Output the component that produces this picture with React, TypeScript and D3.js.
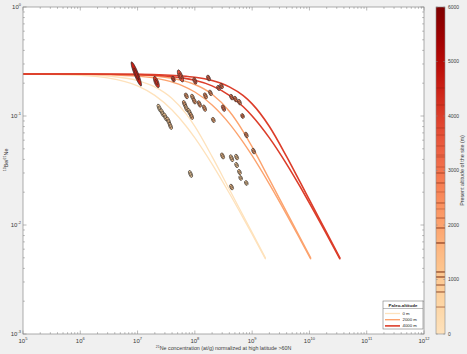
import React from "react";
import * as d3 from "d3";

// ---------- data ----------
const xTickExps = [5, 6, 7, 8, 9, 10, 11, 12];
const yTickExps = [0, -1, -2, -3];
const cbTicks = [0, 1000, 2000, 3000, 4000, 5000, 6000];

// model curves: [21Ne conc, ratio]
const lightN = [1e5, 1e6, 3e6, 1e7, 2e7, 4e7, 7e7, 1e8, 2e8, 4e8, 7e8, 1e9, 1.7e9];
const lightCE = [0.243, 0.2395, 0.2329, 0.2114, 0.1851, 0.1448, 0.1051, 0.0802, 0.0424, 0.02126, 0.01215, 0.00851, 0.005];
const lightSS = [0.2423, 0.2362, 0.2238, 0.189, 0.1546, 0.1134, 0.081, 0.063, 0.0362, 0.01955, 0.01157, 0.00822, 0.0049];

const orangeN = [1e5, 1e6, 1e7, 3e7, 6e7, 1e8, 2e8, 4e8, 7e8, 1e9, 2e9, 4e9, 7e9, 1.05e10];
const orangeCE = [0.243, 0.2424, 0.2375, 0.2269, 0.2121, 0.1945, 0.1585, 0.1106, 0.072, 0.052, 0.02624, 0.01312, 0.0075, 0.005];
const orangeSS = [0.243, 0.2419, 0.2322, 0.2134, 0.1902, 0.1661, 0.1262, 0.0852, 0.0573, 0.0432, 0.02369, 0.01245, 0.00727, 0.0049];

const redN = [1e5, 1e6, 1e7, 3e7, 6e7, 1e8, 2e8, 4e8, 7e8, 1e9, 2e9, 4e9, 7e9, 1e10, 2e10, 3.4e10];
const redCE = [0.243, 0.2428, 0.2413, 0.2379, 0.2329, 0.2265, 0.2114, 0.1851, 0.1536, 0.1293, 0.0802, 0.0424, 0.0243, 0.017, 0.00851, 0.005];
const redSS = [0.243, 0.2427, 0.2396, 0.233, 0.2238, 0.2126, 0.189, 0.1546, 0.1215, 0.1001, 0.063, 0.0362, 0.0221, 0.0159, 0.00822, 0.0049];

const paleoAltitudes = [0, 2000, 4000];
const legendLabels = ["0 m", "2000 m", "4000 m"];

// samples
const sampleN = [9.5e6, 2.13e7, 4.2e7, 5.6e7, 1.0e8, 1.73e8, 2.59e8, 2.92e8, 4.37e8, 5.1e8, 6.0e8, 1.53e8, 1.87e8, 1.2e8, 1.47e8, 3.16e8, 6.8e8, 2.1e8, 7.9e8, 1.06e9, 3.04e8, 4.37e8, 5.35e8, 5.35e8, 6.0e8, 6.3e8, 7.9e8, 4.37e8, 8.4e7, 2.4e7, 2.7e7, 3.05e7, 3.45e7, 3.74e7, 6.6e7, 7.1e7, 8.0e7, 8.7e7, 7.1e7, 9.1e7, 9.8e7];
const sampleRatio = [0.243, 0.205, 0.218, 0.233, 0.21, 0.223, 0.181, 0.188, 0.149, 0.143, 0.134, 0.153, 0.163, 0.129, 0.118, 0.118, 0.1, 0.092, 0.067, 0.0477, 0.043, 0.041, 0.042, 0.0355, 0.0306, 0.027, 0.0243, 0.0223, 0.0294, 0.118, 0.107, 0.098, 0.09, 0.081, 0.129, 0.118, 0.109, 0.1, 0.153, 0.149, 0.137];
const sampleAlt = [4514, 4202, 3780, 3651, 3450, 3284, 3248, 3064, 2954, 2771, 2606, 2404, 2294, 2128, 1945, 2954, 2771, 1670, 2404, 2128, 1138, 1046, 899, 771, 1046, 899, 771, 1138, 495, 495, 771, 899, 1046, 1138, 1670, 1138, 1046, 1670, 1945, 1670, 1945];
const sampleErrDex = [0.106, 0.049, 0.024, 0.053, 0.028, 0.025, 0.022, 0.022, 0.024, 0.024, 0.024, 0.026, 0.024, 0.028, 0.028, 0.028, 0.02, 0.022, 0.024, 0.024, 0.026, 0.03, 0.024, 0.022, 0.022, 0.02, 0.02, 0.024, 0.03, 0.035, 0.035, 0.035, 0.035, 0.03, 0.03, 0.03, 0.03, 0.03, 0.025, 0.025, 0.025];

// ---------- layout ----------
const W = 467, H = 354;
const L = 23, R = 424, T = 7, B = 334;
const CBX = 436, CBW = 9;
const FONT = "'Liberation Sans', Arial, sans-serif";

const x = d3.scaleLog().domain([1e5, 1e12]).range([L, R]);
const y = d3.scaleLog().domain([1e-3, 1]).range([B, T]);
const cbY = d3.scaleLinear().domain([0, 6000]).range([B, T]);
const color = (alt: number) => d3.interpolateOrRd(0.16 + 0.84 * Math.max(0, Math.min(1, alt / 6000)));

const line = d3
  .line<[number, number]>()
  .x((d) => x(d[0]))
  .y((d) => y(d[1]))
  .curve(d3.curveMonotoneX);

const zip = (a: number[], b: number[]) => a.map((v, i) => [v, b[i]] as [number, number]);

const curves = [
  { n: lightN, ce: lightCE, ss: lightSS, alt: paleoAltitudes[0], w: 1.3 },
  { n: orangeN, ce: orangeCE, ss: orangeSS, alt: paleoAltitudes[1], w: 1.4 },
  { n: redN, ce: redCE, ss: redSS, alt: paleoAltitudes[2], w: 1.6 },
];

function minorTicks(lo: number, hi: number) {
  const out: number[] = [];
  for (let e = lo; e < hi; e++) for (let k = 2; k <= 9; k++) out.push(k * Math.pow(10, e));
  return out;
}

export default function App() {
  const axisColor = "#8a8a8a";
  const xMinor = minorTicks(5, 12);
  const yMinor = minorTicks(-3, 0);
  const gradStops = d3.range(0, 1.0001, 0.05);

  return (
    <svg width={W} height={H} style={{ position: "absolute", left: 0, top: 0 }} fontFamily={FONT}>
      <defs>
        <linearGradient id="cb" x1="0" y1="1" x2="0" y2="0">
          {gradStops.map((t) => (
            <stop key={t} offset={t} stopColor={color(t * 6000)} />
          ))}
        </linearGradient>
        <clipPath id="plotclip">
          <rect x={L} y={T} width={R - L} height={B - T} />
        </clipPath>
      </defs>
      <rect x={0} y={0} width={W} height={H} fill="#f0f0f0" />
      <rect x={L} y={T} width={R - L} height={B - T} fill="#ffffff" />

      {/* curves */}
      <g clipPath="url(#plotclip)" fill="none">
        {curves.map((c, i) => (
          <g key={i} stroke={color(c.alt)} strokeWidth={c.w} strokeLinecap="round">
            <path d={line(zip(c.n, c.ss)) || ""} />
            <path d={line(zip(c.n, c.ce)) || ""} />
          </g>
        ))}
      </g>

      {/* samples */}
      <g clipPath="url(#plotclip)">
        {sampleN.map((n, i) => {
          const r = sampleRatio[i];
          const e = Math.pow(10, sampleErrDex[i]);
          const x1 = x(n / e), y1 = y(r * e), x2 = x(n * e), y2 = y(r / e);
          const cx = x(n), cy = y(r);
          const len = Math.hypot(x2 - x1, y2 - y1) / 2;
          const ang = (Math.atan2(y2 - y1, x2 - x1) * 180) / Math.PI + 6;
          const ry = sampleErrDex[i] > 0.04 ? 2.1 : 1.7;
          return (
            <g key={i} transform={`translate(${cx},${cy}) rotate(${ang})`}>
              <ellipse rx={len} ry={ry} fill={color(sampleAlt[i])} stroke="#262626" strokeWidth={0.6} />
              <ellipse rx={len * 0.5} ry={ry * 0.45} fill="none" stroke="#262626" strokeWidth={0.55} />
            </g>
          );
        })}
      </g>

      {/* axes box */}
      <rect x={L} y={T} width={R - L} height={B - T} fill="none" stroke={axisColor} strokeWidth={0.7} />
      <g stroke={axisColor} strokeWidth={0.6}>
        {xTickExps.map((e) => {
          const px = x(Math.pow(10, e));
          return (
            <g key={"xM" + e}>
              <line x1={px} x2={px} y1={B} y2={B - 3.5} />
              <line x1={px} x2={px} y1={T} y2={T + 3.5} />
            </g>
          );
        })}
        {xMinor.map((v, i) => {
          const px = x(v);
          return (
            <g key={"xm" + i}>
              <line x1={px} x2={px} y1={B} y2={B - 1.8} />
              <line x1={px} x2={px} y1={T} y2={T + 1.8} />
            </g>
          );
        })}
        {yTickExps.map((e) => {
          const py = y(Math.pow(10, e));
          return (
            <g key={"yM" + e}>
              <line x1={L} x2={L + 3.5} y1={py} y2={py} />
              <line x1={R} x2={R - 3.5} y1={py} y2={py} />
            </g>
          );
        })}
        {yMinor.map((v, i) => {
          const py = y(v);
          return (
            <g key={"ym" + i}>
              <line x1={L} x2={L + 1.8} y1={py} y2={py} />
              <line x1={R} x2={R - 1.8} y1={py} y2={py} />
            </g>
          );
        })}
      </g>

      {/* tick labels */}
      <g fill="#3a3a3a" fontSize={6}>
        {xTickExps.map((e) => (
          <text key={"xl" + e} x={x(Math.pow(10, e))} y={B + 9} textAnchor="middle">
            10<tspan fontSize={4} dy={-3}>{e}</tspan>
          </text>
        ))}
        {yTickExps.map((e) => (
          <text key={"yl" + e} x={L - 2} y={y(Math.pow(10, e)) + 2} textAnchor="end">
            10<tspan fontSize={4} dy={-3}>{e}</tspan>
          </text>
        ))}
      </g>

      {/* axis labels */}
      <text x={(L + R) / 2} y={350} textAnchor="middle" fontSize={5.3} fill="#3a3a3a">
        <tspan fontSize={3.6} dy={-2}>21</tspan>
        <tspan dy={2}>Ne concentration (at/g) normalized at high latitude &gt;60N</tspan>
      </text>
      <text transform={`translate(8,160) rotate(-90)`} textAnchor="middle" fontSize={5.3} fill="#3a3a3a">
        <tspan fontSize={3.6} dy={-2}>10</tspan>
        <tspan dy={2}>Be/</tspan>
        <tspan fontSize={3.6} dy={-2}>21</tspan>
        <tspan dy={2}>Ne</tspan>
      </text>

      {/* legend */}
      <g>
        <rect x={383} y={301} width={40} height={28} fill="#ffffff" stroke="#7a7a7a" strokeWidth={0.6} />
        <text x={403} y={306.5} textAnchor="middle" fontSize={4.4} fontWeight="bold" fill="#222">
          Paleo-altitude
        </text>
        <line x1={383} x2={423} y1={308.5} y2={308.5} stroke="#7a7a7a" strokeWidth={0.5} />
        {paleoAltitudes.map((a, i) => {
          const ly = 313.5 + i * 6.2;
          return (
            <g key={a}>
              <line x1={385} x2={400} y1={ly} y2={ly} stroke={color(a)} strokeWidth={curves[i].w} />
              <text x={402.5} y={ly + 1.5} fontSize={4.3} fill="#222">
                {legendLabels[i]}
              </text>
            </g>
          );
        })}
      </g>

      {/* colorbar */}
      <rect x={CBX} y={T} width={CBW} height={B - T} fill="url(#cb)" />
      <g>
        {sampleAlt.map((a, i) => (
          <line key={"cbl" + i} x1={CBX} x2={CBX + CBW} y1={cbY(a)} y2={cbY(a)} stroke="#6b1a00" strokeOpacity={0.35} strokeWidth={0.8} />
        ))}
      </g>
      <rect x={CBX} y={T} width={CBW} height={B - T} fill="none" stroke="#8a8a8a" strokeWidth={0.6} />
      <g stroke="#8a8a8a" strokeWidth={0.5}>
        {cbTicks.map((t) => (
          <g key={"cbt" + t}>
            <line x1={CBX + CBW} x2={CBX + CBW - 1.8} y1={cbY(t)} y2={cbY(t)} />
            <line x1={CBX} x2={CBX + 1.8} y1={cbY(t)} y2={cbY(t)} />
          </g>
        ))}
      </g>
      <g fill="#3a3a3a" fontSize={5}>
        {cbTicks.map((t) => (
          <text key={"cbtl" + t} x={CBX + CBW + 3} y={cbY(t) + 1.8}>
            {t}
          </text>
        ))}
      </g>
      <text transform={`translate(464,${(T + B) / 2}) rotate(-90)`} textAnchor="middle" fontSize={5.3} fill="#3a3a3a">
        Present altitude of the site (m)
      </text>
    </svg>
  );
}
